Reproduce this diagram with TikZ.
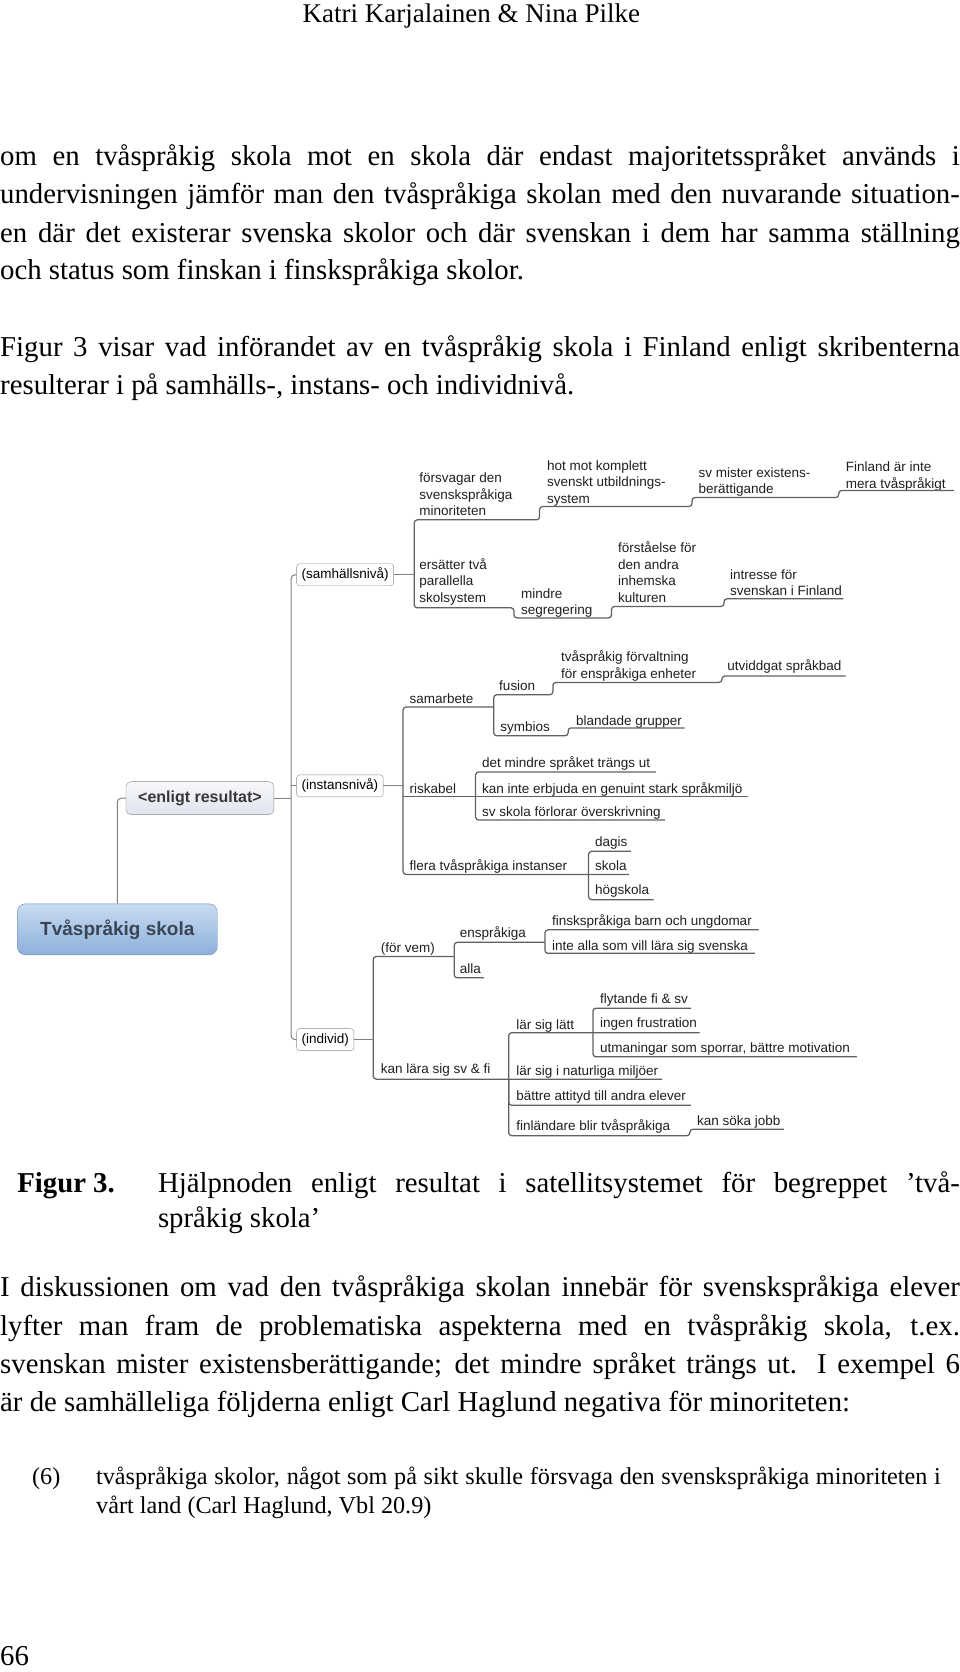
\documentclass[tikz,border=0pt]{standalone}
\usepackage{fontspec}
\setmainfont{Liberation Serif}
\newfontfamily\mapfont{Liberation Sans}
\usetikzlibrary{positioning}

\definecolor{rootTop}{HTML}{C8DBF1}
\definecolor{rootBot}{HTML}{8DB0DC}
\definecolor{rootText}{HTML}{3A4656}
\definecolor{hubTop}{HTML}{F7F8FB}
\definecolor{hubBot}{HTML}{E1E4EE}
\definecolor{lineGray}{HTML}{808080}

\newcommand{\jline}[2][960pt]{\makebox[#1][s]{#2}}

\tikzset{
  body/.style={anchor=base west, inner sep=0pt, font=\fontsize{28.8}{38}\selectfont},
  topic/.style={anchor=base west, inner sep=0pt, align=left, text=black!88,
    font=\mapfont\fontsize{13.5}{16.5}\selectfont},
  level/.style={draw=black!45, fill=white, rounded corners=3pt, anchor=west,
    inner xsep=5pt, inner ysep=0pt, minimum height=22pt,
    font=\mapfont\fontsize{13.5}{16}\selectfont},
  hub/.style={draw=black!45, top color=hubTop, bottom color=hubBot, rounded corners=5pt,
    minimum width=148pt, minimum height=33pt, text=black!78,
    font=\mapfont\bfseries\fontsize{16}{18}\selectfont},
  root/.style={draw=rootBot!80!black, top color=rootTop, bottom color=rootBot, rounded corners=8pt,
    minimum width=200pt, minimum height=51pt, text=rootText,
    font=\mapfont\bfseries\fontsize{19}{21}\selectfont},
  link/.style={draw=lineGray, line width=1pt, rounded corners=4pt},
  ul/.style={draw=black!62, line width=1.25pt, rounded corners=3pt},
}

\begin{document}
\begin{tikzpicture}[x=1.0667pt,y=-1.0667pt]
\useasboundingbox (0,0) rectangle (900,1568);

% page text above the figure
\node[body, anchor=base, font=\fontsize{27}{30}\selectfont] (hdr) at (442,21) {Katri Karjalainen \& Nina Pilke};
\node[body] (p1a) at (0,155) {\jline{om en tvåspråkig skola mot en skola där endast majoritetsspråket används i}};
\node[body] (p1b) at (0,191) {\jline{undervisningen jämför man den tvåspråkiga skolan med den nuvarande situation-}};
\node[body] (p1c) at (0,227) {\jline{en där det existerar svenska skolor och där svenskan i dem har samma ställning}};
\node[body] (p1d) at (0,262) {och status som finskan i finskspråkiga skolor.};
\node[body] (p2a) at (0,334) {\jline{Figur 3 visar vad införandet av en tvåspråkig skola i Finland enligt skribenterna}};
\node[body] (p2b) at (0,369.5) {resulterar i på samhälls-, instans- och individnivå.};

% central topic and helper node
\node[root] (root) at (110,871.5) {Tvåspråkig skola};
\node[hub] (res) at (187.5,748.5) {<enligt resultat>};
\coordinate (trunk) at (273,748.5);
\draw[link] (root.north) |- (res.west);
\draw[link] (res.east) -- (trunk);

\node[level] (sam) at (278,539) {(samhällsnivå)};
\node[level] (ins) at (278,737) {(instansnivå)};
\node[level] (ind) at (278,975) {(individ)};
\draw[link] (sam.west) -| (trunk) |- (ind.west);
\draw[link] (ins.west) -- (ins.west -| trunk);

% samhällsnivå (multi-line topics sit on their last line)
\node[topic] (fors) at (393,483.7) {försvagar den\\svenskspråkiga\\minoriteten};
\node[topic] (hot) at (513,472) {hot mot komplett\\svenskt utbildnings-\\system};
\node[topic] (svm) at (655,463) {sv mister existens-\\berättigande};
\node[topic] (fin) at (793,457.7) {Finland är inte\\mera tvåspråkigt};
\node[topic] (ers) at (393,564.7) {ersätter två\\parallella\\skolsystem};
\node[topic] (mins) at (488.5,576.5) {mindre\\segregering};
\node[topic] (forst) at (579.5,564.7) {förståelse för\\den andra\\inhemska\\kulturen};
\node[topic] (intr) at (684.5,558.7) {intresse för\\svenskan i Finland};
\coordinate (bsam) at (388.5,539);
\draw[link] (sam.east) -- (bsam);
\draw[ul] (bsam) |- (506,487.5) |- (649,475) |- (786.5,466.6) |- (894.5,460);
\draw[ul] (bsam) |- (482,570) |- (573.5,579.5) |- (679,568.7) |- (791,561.6);

% instansnivå
\node[topic] (samb) at (384,660) {samarbete};
\node[topic] (fus) at (468,647.5) {fusion};
\node[topic] (tvf) at (526,636) {tvåspråkig förvaltning\\för enspråkiga enheter};
\node[topic] (utv) at (682,629) {utviddgat språkbad};
\node[topic] (sym) at (469,686) {symbios};
\node[topic] (bla) at (540,680.6) {blandade grupper};
\node[topic] (ris) at (384,744) {riskabel};
\node[topic] (det) at (452,720) {det mindre språket trängs ut};
\node[topic] (kan) at (452,744) {kan inte erbjuda en genuint stark språkmiljö};
\node[topic] (svs) at (452,766) {sv skola förlorar överskrivning};
\node[topic] (fle) at (384,816.5) {flera tvåspråkiga instanser};
\node[topic] (dag) at (558,794) {dagis};
\node[topic] (sko) at (558,816.5) {skola};
\node[topic] (hog) at (558,839) {högskola};
\coordinate (bins) at (378,737);
\coordinate (bsamb) at (463,663);
\coordinate (bris) at (446,747);
\coordinate (bfle) at (552,820);
\draw[link] (ins.east) -- (bins);
\draw[ul] (bins) |- (bsamb);
\draw[ul] (bsamb) |- (518.5,651.5) |- (677,640) |- (793,634);
\draw[ul] (bsamb) |- (532.8,690) |- (642,682.6);
\draw[ul] (bins |- bris) -- (701,747);
\draw[ul] (bris) |- (615,724);
\draw[ul] (bris) |- (623.5,769);
\draw[ul] (bins) |- (590,820);
\draw[ul] (bfle) |- (591.6,798.4);
\draw[ul] (bfle) |- (613,843.7);

% individ
\node[topic] (fv) at (357,893.7) {(för vem)};
\node[topic] (ens) at (431,879.6) {enspråkiga};
\node[topic] (alla) at (431,913) {alla};
\node[topic] (fbu) at (517.7,868) {finskspråkiga barn och ungdomar};
\node[topic] (ial) at (517.7,891) {inte alla som vill lära sig svenska};
\node[topic] (klf) at (357,1007) {kan lära sig sv \& fi};
\node[topic] (lsl) at (484,965) {lär sig lätt};
\node[topic] (fly) at (562.5,941.5) {flytande fi \& sv};
\node[topic] (ing) at (562.5,964) {ingen frustration};
\node[topic] (utm) at (562.5,987.4) {utmaningar som sporrar, bättre motivation};
\node[topic] (nat) at (484,1009) {lär sig i naturliga miljöer};
\node[topic] (bat) at (484,1032.5) {bättre attityd till andra elever};
\node[topic] (fbt) at (484,1060.5) {finländare blir tvåspråkiga};
\node[topic] (ksj) at (653.5,1055.5) {kan söka jobb};
\coordinate (bind) at (350,975);
\coordinate (bfv) at (426,897);
\coordinate (bens) at (511,883.7);
\coordinate (bklf) at (477,1012);
\coordinate (blsl) at (556,968.5);
\draw[link] (ind.east) -- (bind);
\draw[ul] (bind) |- (bfv);
\draw[ul] (bfv) |- (bens);
\draw[ul] (bfv) |- (454,917);
\draw[ul] (bens) |- (711.5,872);
\draw[ul] (bens) |- (708,894);
\draw[ul] (bind) |- (621,1012);
\draw[ul] (bklf) |- (656,968.5);
\draw[ul] (blsl) |- (648,945.6);
\draw[ul] (blsl) |- (803.5,991);
\draw[ul] (bklf) |- (648,1036.5);
\draw[ul] (bklf) |- (647,1065) |- (735,1059);

% caption and text below the figure
\node[body, font=\bfseries\fontsize{28.8}{38}\selectfont] (cap) at (16,1118) {Figur 3.};
\node[body] (capa) at (148,1118) {\jline[802pt]{Hjälpnoden enligt resultat i satellitsystemet för begreppet ’två-}};
\node[body] (capb) at (148,1151) {språkig skola’};
\node[body] (p3a) at (0,1216) {\jline{I diskussionen om vad den tvåspråkiga skolan innebär för svenskspråkiga elever}};
\node[body] (p3b) at (0,1252) {\jline{lyfter man fram de problematiska aspekterna med en tvåspråkig skola, t.ex.}};
\node[body] (p3c) at (0,1288) {\jline{svenskan mister existensberättigande; det mindre språket trängs ut. I exempel 6}};
\node[body] (p3d) at (0,1324) {är de samhälleliga följderna enligt Carl Haglund negativa för minoriteten:};
\node[body, font=\fontsize{24.2}{29}\selectfont] (ex) at (30,1392) {(6)};
\node[body, font=\fontsize{24.2}{29}\selectfont] (exa) at (90,1392) {\jline[845pt]{tvåspråkiga skolor, något som på sikt skulle försvaga den svenskspråkiga minoriteten i}};
\node[body, font=\fontsize{24.2}{29}\selectfont] (exb) at (90,1419) {vårt land (Carl Haglund, Vbl 20.9)};
\node[body] (pg) at (0,1562) {66};
\end{tikzpicture}
\end{document}
